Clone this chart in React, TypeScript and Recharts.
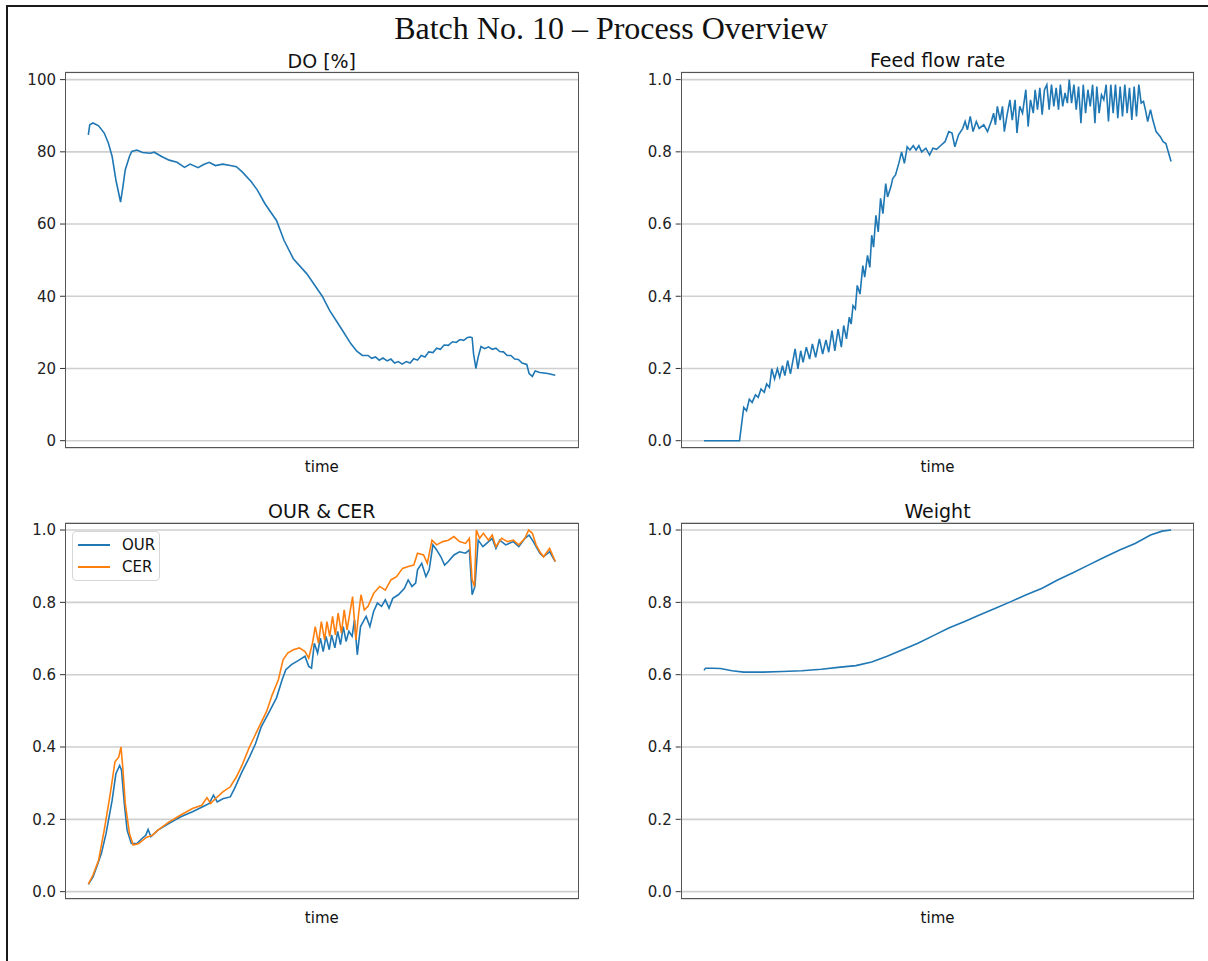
import { LineChart, Line, XAxis, YAxis, CartesianGrid } from 'recharts'

// time axis is % of batch duration (0 = inoculation, 100 = harvest)

const doTime = [
    0, 0.3, 1.0, 2.2, 3.4, 4.3, 5.1, 5.9, 6.9, 7.4, 7.9, 8.8, 9.3, 10.4, 11.6, 13.3, 14.1, 15.7, 17.3, 19.0,
    20.6, 21.8, 23.5, 24.7, 25.9, 27.2, 28.8, 30.4, 31.7, 32.9, 34.9, 36.2, 37.8, 39.0, 40.3, 41.9, 43.9, 46.8,
    50.1, 51.7, 54.2, 56.2, 57.5, 58.7, 59.9, 60.7, 61.5, 62.3, 63.1, 64.0, 64.8, 65.6, 66.4, 67.2, 68.1, 68.9,
    69.7, 70.5, 71.3, 72.1, 72.9, 73.8, 74.6, 75.4, 76.2, 77.1, 78.0, 78.8, 79.6, 80.4, 81.2, 81.8, 82.2, 82.5,
    83.0, 83.5, 84.1, 84.9, 85.7, 86.5, 87.3, 88.1, 88.9, 89.7, 90.5, 91.3, 92.1, 92.9, 93.9, 94.4, 95.1, 95.7,
    96.7, 98.4, 100,
]
const doValue = [
    84.7, 87.5, 88.0, 87.2, 85.2, 82.4, 78.7, 72.2, 66.1, 70.3, 75.0, 78.7, 80.1, 80.5, 79.8, 79.6, 79.9, 78.7, 77.7, 77.1,
    75.7, 76.6, 75.6, 76.5, 77.1, 76.2, 76.6, 76.2, 75.9, 74.5, 71.7, 69.4, 65.7, 63.4, 61.0, 55.5, 50.4, 46.2,
    40.0, 36.0, 31.0, 26.9, 24.8, 23.6, 23.6, 22.8, 23.2, 22.3, 22.9, 22.1, 22.6, 21.5, 21.9, 21.2, 21.9, 21.5,
    22.7, 22.3, 23.6, 23.2, 24.6, 24.4, 25.6, 25.3, 26.5, 26.4, 27.4, 27.2, 28.0, 27.8, 28.6, 28.7, 28.5, 24.1,
    20.0, 23.2, 26.1, 25.5, 26.0, 25.3, 25.6, 24.7, 24.6, 23.6, 23.6, 22.6, 22.5, 21.5, 21.1, 18.6, 17.8, 19.3,
    18.9, 18.6, 18.1,
]

const feedTime = [
    0, 7.6, 8.5, 9.1, 9.7, 10.3, 11.0, 11.6, 12.2, 12.9, 13.4, 14.0, 14.5, 15.1, 15.7, 16.2, 16.8, 17.3, 17.9, 18.5,
    19.5, 20.1, 20.7, 21.2, 21.9, 22.6, 23.2, 23.9, 24.7, 25.4, 26.1, 26.7, 27.4, 28.0, 28.7, 29.4, 29.9, 30.5,
    31.1, 31.5, 31.9, 32.4, 32.8, 33.4, 34.0, 34.4, 35.0, 35.5, 35.9, 36.3, 36.8, 37.3, 37.8, 38.3, 38.9, 39.3,
    40.0, 40.4, 41.0, 41.7, 42.3, 42.9, 43.5, 44.1, 44.8, 45.4, 46.0, 46.6, 47.5, 48.3, 49.0, 49.8, 50.8, 51.6,
    52.4, 53.1, 53.7, 54.5, 55.4, 55.9, 56.4, 57.0, 57.6, 58.3, 58.9, 59.9, 60.7, 61.6, 62.0, 62.4, 62.8, 63.4,
    63.9, 64.3, 64.9, 65.5, 66.0, 66.6, 67.0, 67.6, 68.2, 68.9, 69.4, 69.9, 70.5, 70.9, 71.4, 71.9, 72.4, 72.9,
    73.4, 73.9, 74.4, 74.9, 75.4, 75.9, 76.3, 76.8, 77.3, 77.8, 78.2, 78.7, 79.2, 79.7, 80.2, 80.7, 81.2, 81.7,
    82.2, 82.7, 83.2, 83.7, 84.1, 84.6, 85.1, 85.6, 86.1, 86.6, 87.1, 87.6, 88.1, 88.6, 89.1, 89.6, 90.1, 90.6,
    91.1, 91.6, 92.1, 92.6, 93.1, 93.6, 94.1, 94.5, 95.0, 95.6, 96.1, 96.8, 97.7, 98.3, 98.9, 99.4, 100,
]
const feedRate = [
    0, 0, 0.092, 0.083, 0.115, 0.106, 0.127, 0.12, 0.143, 0.134, 0.157, 0.148, 0.199, 0.171, 0.199, 0.176, 0.208, 0.18, 0.222, 0.185,
    0.254, 0.199, 0.249, 0.217, 0.259, 0.226, 0.268, 0.231, 0.282, 0.24, 0.279, 0.245, 0.305, 0.249, 0.309, 0.259, 0.319, 0.282,
    0.342, 0.323, 0.374, 0.365, 0.43, 0.406, 0.485, 0.453, 0.513, 0.48, 0.569, 0.536, 0.624, 0.578, 0.671, 0.629, 0.712, 0.675,
    0.703, 0.726, 0.736, 0.768, 0.8, 0.768, 0.814, 0.805, 0.817, 0.805, 0.817, 0.8, 0.81, 0.791, 0.81, 0.807, 0.819, 0.828,
    0.856, 0.852, 0.814, 0.847, 0.865, 0.884, 0.861, 0.898, 0.856, 0.884, 0.865, 0.875, 0.856, 0.888, 0.907, 0.875, 0.926, 0.888,
    0.926, 0.856, 0.903, 0.944, 0.888, 0.944, 0.852, 0.926, 0.907, 0.972, 0.87, 0.944, 0.907, 0.972, 0.917, 0.977, 0.903, 0.972,
    0.986, 0.917, 0.986, 0.926, 0.977, 0.917, 0.986, 0.926, 0.963, 0.935, 1.0, 0.935, 0.986, 0.917, 0.981, 0.879, 0.986, 0.907,
    0.972, 0.926, 0.986, 0.879, 0.981, 0.907, 0.958, 0.944, 0.986, 0.884, 0.986, 0.907, 0.986, 0.893, 0.981, 0.898, 0.986, 0.907,
    0.977, 0.888, 0.981, 0.898, 0.986, 0.935, 0.94, 0.917, 0.884, 0.917, 0.888, 0.856, 0.842, 0.828, 0.823, 0.8, 0.773,
]

const ourTime = [
    0, 1.0, 1.8, 2.8, 3.8, 5.1, 5.9, 6.7, 7.1, 7.7, 8.3, 9.2, 10.4, 11.5, 12.3, 12.8, 13.4, 14.9, 17.3, 19.8,
    22.3, 24.7, 25.9, 26.8, 27.6, 28.8, 30.4, 31.3, 32.9, 34.5, 35.8, 37.0, 38.6, 40.3, 41.5, 42.3, 43.5, 45.2,
    46.4, 47.2, 47.8, 48.4, 49.1, 49.7, 50.3, 50.9, 51.6, 52.1, 52.8, 53.4, 54.0, 54.6, 55.2, 55.8, 56.5, 57.0,
    57.6, 58.3, 59.1, 59.5, 60.3, 61.1, 61.9, 62.8, 63.6, 64.4, 65.2, 66.4, 67.7, 68.5, 69.3, 70.1, 70.5, 71.4,
    72.3, 73.0, 73.8, 74.6, 75.5, 76.3, 77.1, 78.3, 79.5, 80.8, 81.6, 82.2, 82.8, 83.5, 84.5, 85.3, 86.5, 87.3,
    88.1, 89.4, 91.0, 92.2, 93.5, 94.4, 95.3, 95.9, 96.7, 97.5, 98.8, 100,
]
const ourValue = [
    0.02, 0.041, 0.069, 0.106, 0.161, 0.253, 0.326, 0.349, 0.336, 0.244, 0.17, 0.133, 0.133, 0.147, 0.156, 0.172, 0.152, 0.17, 0.189, 0.207,
    0.221, 0.236, 0.244, 0.267, 0.248, 0.257, 0.262, 0.285, 0.331, 0.372, 0.409, 0.455, 0.494, 0.536, 0.586, 0.614, 0.628, 0.641,
    0.651, 0.623, 0.618, 0.687, 0.66, 0.701, 0.664, 0.706, 0.669, 0.71, 0.674, 0.72, 0.683, 0.733, 0.692, 0.72, 0.706, 0.752,
    0.655, 0.733, 0.752, 0.761, 0.733, 0.775, 0.798, 0.789, 0.807, 0.784, 0.811, 0.821, 0.839, 0.862, 0.844, 0.853, 0.89, 0.908,
    0.871, 0.89, 0.959, 0.945, 0.926, 0.903, 0.913, 0.931, 0.94, 0.936, 0.945, 0.821, 0.844, 0.972, 0.954, 0.963, 0.977, 0.949,
    0.972, 0.959, 0.968, 0.954, 0.977, 0.986, 0.968, 0.954, 0.936, 0.926, 0.94, 0.913,
]

const cerTime = [
    0, 1.0, 2.2, 3.4, 4.7, 5.7, 6.5, 7.0, 7.4, 7.9, 8.8, 9.6, 10.8, 12.4, 13.7, 14.9, 17.3, 19.8, 22.3, 24.3,
    25.4, 26.2, 27.2, 28.8, 30.4, 31.7, 32.9, 34.5, 36.2, 38.2, 39.4, 40.7, 41.7, 42.7, 43.9, 45.2, 46.4, 47.2,
    48.0, 48.6, 49.3, 49.9, 50.6, 51.1, 51.7, 52.3, 52.9, 53.5, 54.2, 54.8, 55.4, 56.0, 56.6, 57.3, 57.9, 58.4,
    59.1, 59.9, 61.1, 62.4, 63.6, 64.8, 66.0, 67.3, 68.5, 69.7, 70.5, 71.8, 72.6, 73.6, 74.6, 75.9, 77.1, 78.3,
    79.5, 80.8, 81.6, 82.2, 82.7, 83.1, 83.8, 84.6, 85.7, 86.5, 87.3, 88.5, 89.8, 91.0, 92.2, 93.5, 94.3, 95.1,
    95.9, 96.7, 97.5, 98.8, 100,
]
const cerValue = [
    0.021, 0.046, 0.087, 0.17, 0.271, 0.359, 0.372, 0.4, 0.34, 0.244, 0.161, 0.129, 0.133, 0.15, 0.156, 0.17, 0.193, 0.212, 0.23, 0.239,
    0.26, 0.244, 0.257, 0.276, 0.29, 0.317, 0.349, 0.4, 0.446, 0.499, 0.545, 0.586, 0.641, 0.66, 0.669, 0.674, 0.664, 0.646,
    0.687, 0.733, 0.687, 0.747, 0.696, 0.747, 0.706, 0.761, 0.71, 0.77, 0.715, 0.779, 0.724, 0.77, 0.816, 0.696, 0.77, 0.821,
    0.779, 0.789, 0.825, 0.844, 0.834, 0.862, 0.871, 0.894, 0.899, 0.903, 0.936, 0.931, 0.908, 0.972, 0.959, 0.968, 0.972, 0.982,
    0.968, 0.963, 0.977, 0.862, 0.844, 1.0, 0.977, 0.991, 0.972, 0.986, 0.954, 0.977, 0.968, 0.972, 0.959, 0.977, 1.0, 0.991,
    0.959, 0.94, 0.926, 0.949, 0.913,
]

const weightTime = [
    0, 0.3, 1.8, 3.5, 6.0, 8.5, 12.6, 16.8, 20.9, 25.1, 29.2, 32.5, 35.9, 39.2, 42.5, 45.8, 49.1, 52.4, 55.8, 59.1,
    62.4, 65.7, 69.0, 72.4, 75.7, 79.0, 82.3, 85.6, 89.0, 92.3, 95.6, 98.1, 100,
]
const weightValue = [
    0.612, 0.618, 0.618, 0.617, 0.611, 0.607, 0.607, 0.609, 0.611, 0.615, 0.621, 0.625, 0.635, 0.651, 0.669, 0.687, 0.708, 0.729, 0.747, 0.766,
    0.784, 0.802, 0.821, 0.839, 0.862, 0.882, 0.903, 0.924, 0.945, 0.963, 0.986, 0.997, 1.0,
]

const doTicks = [0, 20, 40, 60, 80, 100]
const normTicks = [0, 0.2, 0.4, 0.6, 0.8, 1.0]

const BLUE = '#1f77b4'
const ORANGE = '#ff7f0e'
const FONT = '"DejaVu Sans", sans-serif'

const rateSeries = [
    { name: 'OUR', color: BLUE },
    { name: 'CER', color: ORANGE },
]

const zip = (ts: number[], vs: number[]) => ts.map((t, i) => ({ t, v: vs[i] }))

type PanelProps = {
    left: number
    top: number
    width: number
    height: number
    plotTop: number
    plotBottom: number
    plotLeft: number
    plotRight: number
    title: string
    titleY: number
    timeY: number
    domain: [number, number]
    ticks: number[]
    fmt: (v: number) => string
    children: React.ReactNode
    overlay?: React.ReactNode
}

function Panel(p: PanelProps) {
    const yAxisWidth = 50
    const margin = {
        top: p.plotTop - p.top,
        bottom: p.top + p.height - p.plotBottom,
        left: p.plotLeft - p.left - yAxisWidth,
        right: p.left + p.width - p.plotRight,
    }
    const plotW = p.plotRight - p.plotLeft
    return (
        <>
            <div
                style={{
                    position: 'absolute',
                    left: p.plotLeft,
                    width: plotW,
                    top: p.titleY - 12,
                    height: 24,
                    lineHeight: '24px',
                    textAlign: 'center',
                    fontFamily: FONT,
                    fontSize: 19,
                    color: '#111',
                }}
            >
                {p.title}
            </div>
            <div style={{ position: 'absolute', left: p.left, top: p.top }}>
                <LineChart width={p.width} height={p.height} margin={margin}>
                    <CartesianGrid vertical={false} stroke="#cfcfcf" strokeWidth={1.6} />
                    <XAxis type="number" dataKey="t" domain={[-5, 105]} allowDataOverflow hide />
                    <YAxis
                        type="number"
                        width={yAxisWidth}
                        domain={p.domain}
                        ticks={p.ticks}
                        interval={0}
                        allowDataOverflow
                        axisLine={false}
                        tickSize={5}
                        tickMargin={4}
                        tickLine={{ stroke: '#333' }}
                        tickFormatter={p.fmt}
                        tick={{ fill: '#222', fontSize: 15, fontFamily: FONT }}
                    />
                    {p.children}
                </LineChart>
            </div>
            <div
                style={{
                    position: 'absolute',
                    left: p.plotLeft,
                    top: p.plotTop,
                    width: plotW,
                    height: p.plotBottom - p.plotTop,
                    boxSizing: 'border-box',
                    border: '1.2px solid #555',
                    pointerEvents: 'none',
                }}
            />
            {p.overlay}
            <div
                style={{
                    position: 'absolute',
                    left: p.plotLeft,
                    width: plotW,
                    top: p.timeY - 10,
                    height: 20,
                    lineHeight: '20px',
                    textAlign: 'center',
                    fontFamily: FONT,
                    fontSize: 15,
                    color: '#111',
                }}
            >
                time
            </div>
        </>
    )
}

function LegendBox({ left, top }: { left: number; top: number }) {
    return (
        <div
            style={{
                position: 'absolute',
                left,
                top,
                width: 88,
                height: 50,
                boxSizing: 'border-box',
                border: '1px solid #d6d6d6',
                borderRadius: 4,
                background: 'rgba(255,255,255,0.9)',
                fontFamily: FONT,
                fontSize: 15,
                color: '#111',
                paddingTop: 2,
            }}
        >
            {rateSeries.map((s) => (
                <div key={s.name} style={{ display: 'flex', alignItems: 'center', height: 22 }}>
                    <span
                        style={{
                            display: 'inline-block',
                            width: 32,
                            height: 2,
                            marginLeft: 5,
                            marginRight: 12,
                            background: s.color,
                        }}
                    />
                    {s.name}
                </div>
            ))}
        </div>
    )
}

const fmt1 = (v: number) => v.toFixed(1)
const fmt0 = (v: number) => String(v)

export default function App() {
    const colL = { plotLeft: 65, plotRight: 578.6 }
    const colR = { plotLeft: 680.7, plotRight: 1194.4 }
    return (
        <div style={{ position: 'absolute', left: 0, top: 0, width: 1208, height: 961, background: '#fff', overflow: 'hidden' }}>
            <div
                style={{
                    position: 'absolute',
                    left: 6,
                    top: 5,
                    width: 1210,
                    height: 970,
                    borderTop: '2.4px solid #1a1a1a',
                    borderLeft: '2.4px solid #1a1a1a',
                }}
            />
            <div
                style={{
                    position: 'absolute',
                    left: 0,
                    width: 1222,
                    top: 9,
                    height: 38,
                    lineHeight: '38px',
                    textAlign: 'center',
                    fontFamily: '"Liberation Serif", "Times New Roman", serif',
                    fontSize: 32,
                    color: '#111',
                }}
            >
                Batch No. 10 – Process Overview
            </div>

            <Panel
                left={0} top={50} width={600} height={430}
                plotTop={72.4} plotBottom={447.9} {...colL}
                title="DO [%]" titleY={61} timeY={467}
                domain={[-2, 102]} ticks={doTicks} fmt={fmt0}
            >
                <Line data={zip(doTime, doValue)} dataKey="v" type="linear" stroke={BLUE} strokeWidth={1.6} dot={false} isAnimationActive={false} />
            </Panel>

            <Panel
                left={615} top={50} width={593} height={430}
                plotTop={72.4} plotBottom={447.9} {...colR}
                title="Feed flow rate" titleY={60} timeY={467}
                domain={[-0.02, 1.02]} ticks={normTicks} fmt={fmt1}
            >
                <Line data={zip(feedTime, feedRate)} dataKey="v" type="linear" stroke={BLUE} strokeWidth={1.6} dot={false} isAnimationActive={false} />
            </Panel>

            <Panel
                left={0} top={490} width={600} height={440}
                plotTop={522.8} plotBottom={898.9} {...colL}
                title="OUR & CER" titleY={511} timeY={918}
                domain={[-0.02, 1.02]} ticks={normTicks} fmt={fmt1}
                overlay={<LegendBox left={72} top={531} />}
            >
                <Line data={zip(ourTime, ourValue)} dataKey="v" name="OUR" type="linear" stroke={BLUE} strokeWidth={1.6} dot={false} isAnimationActive={false} />
                <Line data={zip(cerTime, cerValue)} dataKey="v" name="CER" type="linear" stroke={ORANGE} strokeWidth={1.6} dot={false} isAnimationActive={false} />
            </Panel>

            <Panel
                left={615} top={490} width={593} height={440}
                plotTop={522.8} plotBottom={898.9} {...colR}
                title="Weight" titleY={511} timeY={918}
                domain={[-0.02, 1.02]} ticks={normTicks} fmt={fmt1}
            >
                <Line data={zip(weightTime, weightValue)} dataKey="v" type="linear" stroke={BLUE} strokeWidth={1.6} dot={false} isAnimationActive={false} />
            </Panel>
        </div>
    )
}
